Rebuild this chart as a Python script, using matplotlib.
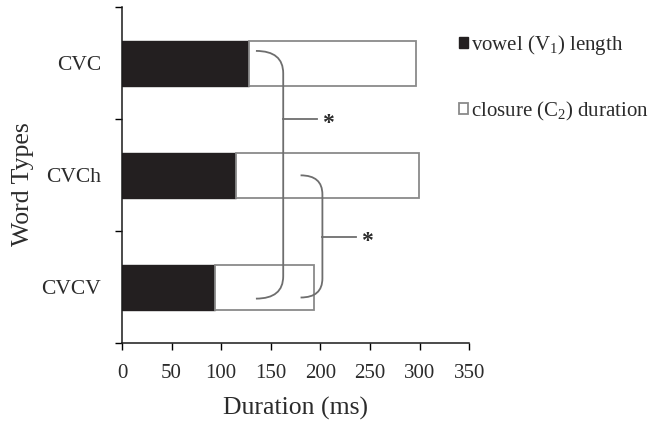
import matplotlib
matplotlib.use("Agg")
import matplotlib.pyplot as plt
from matplotlib.path import Path
from matplotlib.patches import PathPatch

plt.rcParams['font.family'] = ['Liberation Serif', 'DejaVu Serif']
plt.rcParams['mathtext.fontset'] = 'stix'

# data (ms), bottom to top
word_types = ["CVCV", "CVCh", "CVC"]
vowel_len = [94, 115, 128]
total_len = [194, 299, 296]
closure_len = [t - v for t, v in zip(total_len, vowel_len)]

# significance brackets: (x start, x vertical, y top, y bottom, x tick end, y tick)
brackets = [
    (135, 162.5, 2.11, -0.10, 197, 1.5),
    (180, 202.0, 1.00, -0.09, 236, 0.45),
]

text_col = "#2b2b2b"
line_col = "#6e6e6e"

fig = plt.figure(figsize=(6.49, 4.23), dpi=100)
ax = fig.add_axes([0.188, 0.188, 0.535, 0.795])

ypos = range(len(word_types))
ax.barh(ypos, vowel_len, height=0.4, color="#231f20", edgecolor="#231f20",
        linewidth=1.0, label=r"vowel ($\mathregular{V_1}$) length")
ax.barh(ypos, closure_len, left=vowel_len, height=0.4, color="white",
        edgecolor="#8a8a8a", linewidth=1.3,
        label=r"closure ($\mathregular{C_2}$) duration")

def draw_bracket(x0, xv, ytop, ybot, xt, yt, rx_y=0.2):
    verts = [(x0, ytop), (xv, ytop), (xv, ytop - rx_y),
             (xv, ybot + rx_y), (xv, ybot), (x0, ybot)]
    codes = [Path.MOVETO, Path.CURVE3, Path.CURVE3,
             Path.LINETO, Path.CURVE3, Path.CURVE3]
    ax.add_patch(PathPatch(Path(verts, codes), fill=False,
                           edgecolor=line_col, linewidth=1.3))
    ax.plot([xv, xt], [yt, yt], color=line_col, linewidth=1.3)
    ax.text(xt + 11, yt - 0.04, "*", fontsize=17, color=text_col,
            ha="center", va="center", fontweight="bold")

draw_bracket(*brackets[0], rx_y=0.2)
draw_bracket(*brackets[1], rx_y=0.17)

ax.set_xlim(0, 350)
ax.set_ylim(-0.5, 2.5)
ax.set_xticks(range(0, 351, 50))
ax.set_yticks([-0.5, 0.5, 1.5, 2.5])
ax.set_yticklabels([])
ax.set_yticks(list(ypos), minor=True)
ax.set_yticklabels(word_types, minor=True)
ax.tick_params(axis="y", which="minor", length=0, pad=15,
               labelsize=15.5, labelcolor=text_col)
ax.tick_params(axis="y", which="major", length=5, width=1.0, direction="out")
ax.tick_params(axis="x", length=5, width=1.0, direction="out", pad=10,
               labelsize=15, labelcolor=text_col)

for side in ("top", "right"):
    ax.spines[side].set_visible(False)
for side in ("left", "bottom"):
    ax.spines[side].set_linewidth(1.1)
    ax.spines[side].set_color("#1a1a1a")

ax.set_xlabel("Duration (ms)", fontsize=18.5, color=text_col, labelpad=10)
ax.set_ylabel("Word Types", fontsize=18.5, color=text_col)
ax.yaxis.set_label_coords(-0.253, 0.473)

leg = ax.legend(loc="upper left", bbox_to_anchor=(0.707, 0.922),
                bbox_transform=fig.transFigure, frameon=False,
                fontsize=15, handlelength=0.45, handleheight=0.45,
                handletextpad=0.15, labelspacing=2.05, borderpad=0,
                borderaxespad=0)
for t in leg.get_texts():
    t.set_color(text_col)

fig.savefig("out.png", dpi=100)
